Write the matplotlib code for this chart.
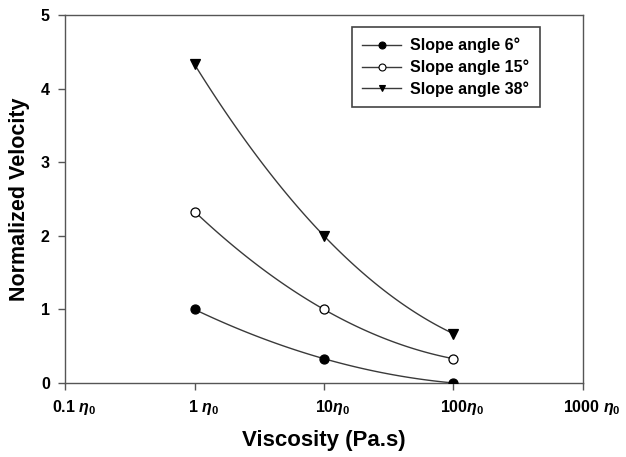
import numpy as np
import matplotlib.pyplot as plt
import matplotlib.transforms as mtransforms

plt.rcParams['font.family'] = ['Liberation Sans', 'DejaVu Sans']
plt.rcParams['mathtext.fontset'] = 'custom'
plt.rcParams['mathtext.it'] = 'Liberation Sans:italic:bold'
plt.rcParams['mathtext.rm'] = 'Liberation Sans:bold'

# data
viscosity = [1, 10, 100]
slope6 = [1.0, 0.33, 0.0]
slope15 = [2.33, 1.0, 0.33]
slope38 = [4.33, 2.0, 0.67]
tick_vals = [0.1, 1, 10, 100, 1000]
tick_labels = [r'0.1 $\eta_0$', r'1 $\eta_0$', r'10$\eta_0$', r'100$\eta_0$', r'1000 $\eta_0$']


def smooth(xs, ys):
    # quadratic through the points in log-x, just for drawing the curve
    t = np.log10(xs)
    c = np.polyfit(t, ys, 2)
    tt = np.linspace(t[0], t[-1], 100)
    return 10 ** tt, np.polyval(c, tt)


fig = plt.figure(figsize=(6.26, 4.57), dpi=100)
ax = fig.add_axes([0.104, 0.162, 0.827, 0.805])

series = [
    (slope6, 'o', 'black', 'Slope angle 6°'),
    (slope15, 'o', 'white', 'Slope angle 15°'),
    (slope38, 'v', 'black', 'Slope angle 38°'),
]
for ys, m, fc, lab in series:
    sx, sy = smooth(viscosity, ys)
    ax.plot(sx, sy, color='#3a3a3a', lw=1, zorder=2)
    ax.plot(viscosity, ys, linestyle='none', marker=m, markersize=6.5,
            markerfacecolor=fc, markeredgecolor='black', mew=0.9, zorder=3)
    ax.plot([], [], color='#3a3a3a', lw=1, marker=m, markersize=5,
            markerfacecolor=fc, markeredgecolor='black', mew=0.8, label=lab)

ax.set_xscale('log')
ax.set_xlim(0.1, 1000)
ax.set_ylim(0, 5)
ax.set_xticks(tick_vals)
ax.set_xticklabels(tick_labels)
ax.minorticks_off()
ax.set_yticks([0, 1, 2, 3, 4, 5])

for s in ax.spines.values():
    s.set_color('#555555')
    s.set_linewidth(1)
ax.tick_params(direction='out', length=5, width=1, color='#555555',
               labelsize=11.5, pad=6)
shift = mtransforms.ScaledTranslation(0.09, 0, fig.dpi_scale_trans)
for t in ax.get_xticklabels():
    t.set_fontweight('bold')
    t.set_transform(t.get_transform() + shift)
for t in ax.get_yticklabels():
    t.set_fontweight('bold')

ax.set_xlabel('Viscosity (Pa.s)', fontsize=16, fontweight='bold', labelpad=9)
ax.set_ylabel('Normalized Velocity', fontsize=15.5, fontweight='bold', labelpad=8)

leg = ax.legend(loc='upper right', bbox_to_anchor=(0.917, 0.967),
                borderaxespad=0,
                prop={'weight': 'bold', 'size': 11.5}, fancybox=False,
                edgecolor='#444444', framealpha=1, handlelength=2.4,
                borderpad=0.65, labelspacing=0.4, handletextpad=0.6)
leg.get_frame().set_linewidth(1.2)

fig.savefig('out.png', dpi=100)
